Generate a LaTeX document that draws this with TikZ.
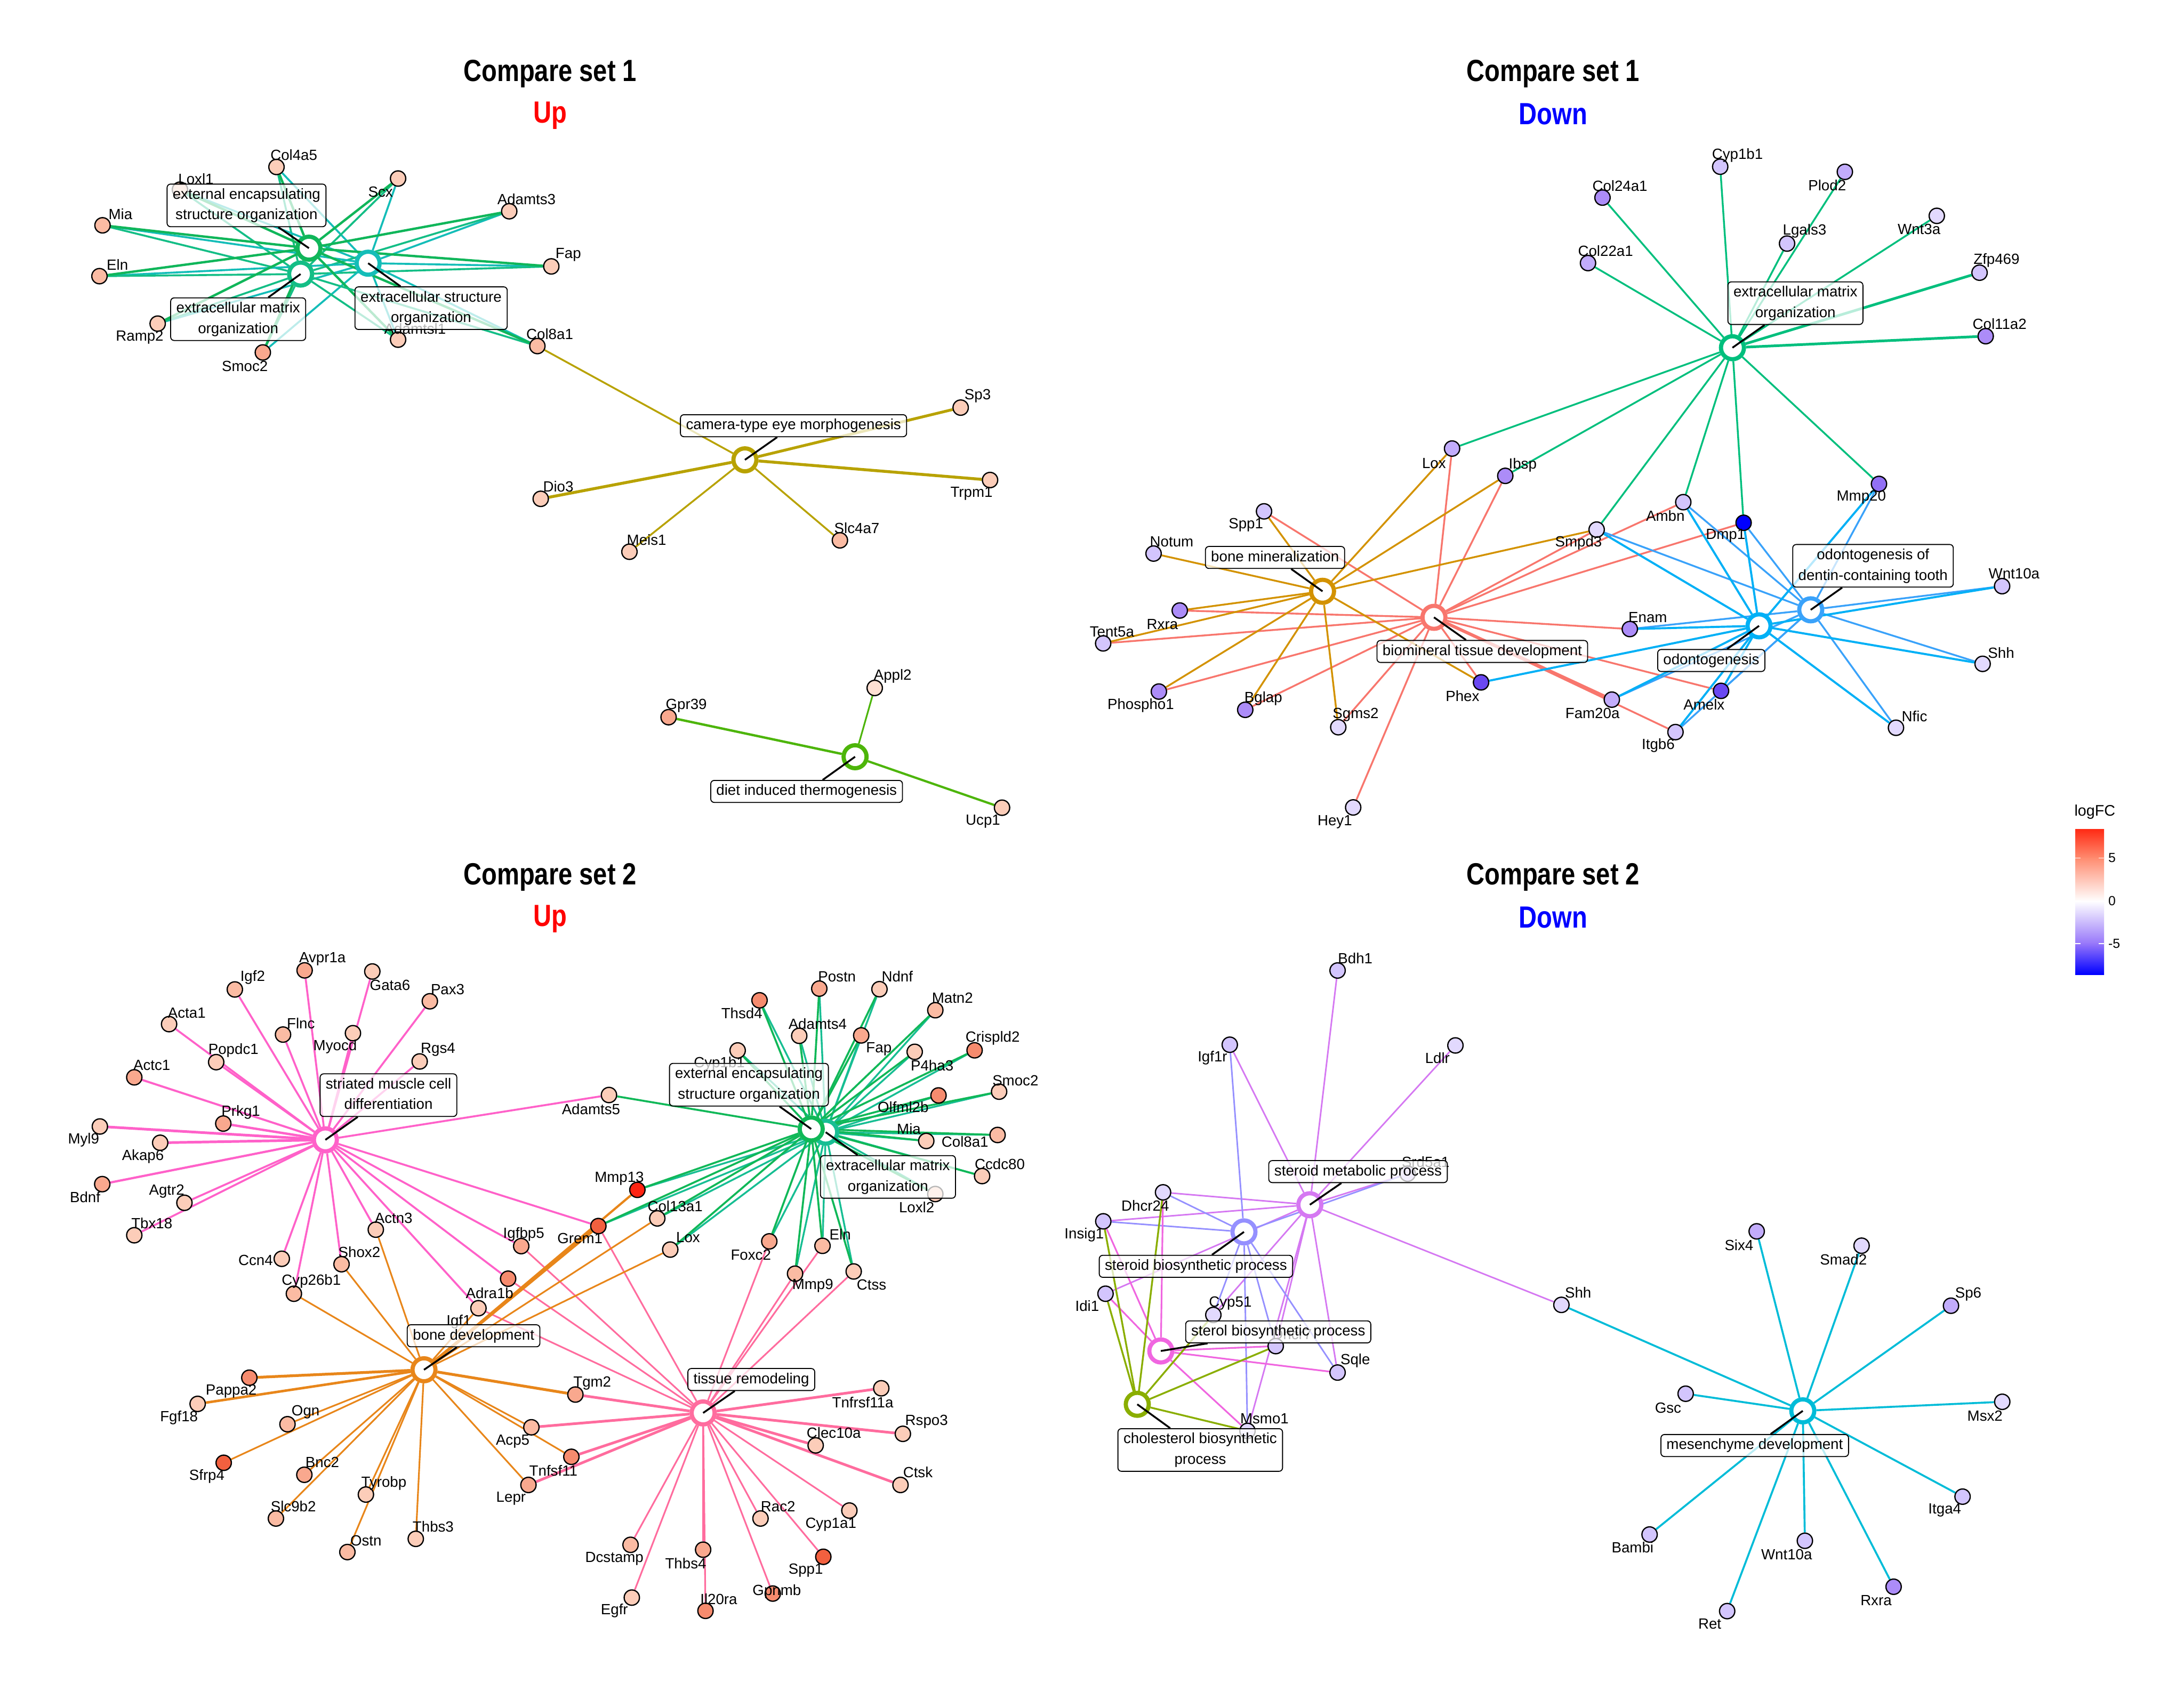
\documentclass[tikz,border=0pt]{standalone}
\usepackage{fontspec}
\setmainfont{Liberation Sans}
\newfontfamily\ttlfont[FakeStretch=0.82]{Liberation Sans}
\pgfdeclarelayer{edgelayer}
\pgfdeclarelayer{toplayer}
\pgfdeclarelayer{boxlayer}
\pgfsetlayers{edgelayer,main,toplayer,boxlayer}
\definecolor{up1}{HTML}{FDE0D3}
\definecolor{up2}{HTML}{FCCDB9}
\definecolor{up3}{HTML}{FBBBA3}
\definecolor{up4}{HTML}{F9A88E}
\definecolor{up5}{HTML}{F68B6E}
\definecolor{up6}{HTML}{F2603F}
\definecolor{up7}{HTML}{FF2412}
\definecolor{dn1}{HTML}{E2D9FE}
\definecolor{dn2}{HTML}{D3C5FD}
\definecolor{dn3}{HTML}{C2ACFB}
\definecolor{dn4}{HTML}{AC8CF8}
\definecolor{dn5}{HTML}{9270F5}
\definecolor{dn6}{HTML}{6A48F2}
\definecolor{dn7}{HTML}{0000FF}
\definecolor{col1a}{HTML}{10B65A}
\definecolor{col1b}{HTML}{14BE86}
\definecolor{col1c}{HTML}{14BDB8}
\definecolor{col1d}{HTML}{B8A200}
\definecolor{col1e}{HTML}{4DB50A}
\definecolor{col2a}{HTML}{00BF7D}
\definecolor{col2b}{HTML}{D39200}
\definecolor{col2c}{HTML}{F8766D}
\definecolor{col2d}{HTML}{00B0F6}
\definecolor{col2e}{HTML}{3AA2FA}
\definecolor{col3a}{HTML}{FF61C9}
\definecolor{col3b}{HTML}{10B858}
\definecolor{col3c}{HTML}{17BE93}
\definecolor{col3d}{HTML}{E8861A}
\definecolor{col3e}{HTML}{FF6C9E}
\definecolor{col4a}{HTML}{D578F2}
\definecolor{col4b}{HTML}{9590FF}
\definecolor{col4c}{HTML}{F066E0}
\definecolor{col4d}{HTML}{8AAE00}
\definecolor{col4e}{HTML}{00BCD8}
\definecolor{lgr}{HTML}{FF2A14}
\definecolor{lgfive}{HTML}{FF8C70}
\definecolor{lgmfive}{HTML}{9676FA}
\newcommand\lab{\fontsize{10.6}{14.8}\selectfont}
\newcommand\bstr{\rule[-2.6pt]{0pt}{10.8pt}}
\newcommand\gene[7]{\node[gnode,fill=#4] (#1) at (#2,#3) {};\node[glab] (#1-l) at (#5,#6) {#7};}
\newcommand\catnode[4]{\node[ring,draw=#4] (#1) at (#2,#3) {};}
\begin{document}
\begin{tikzpicture}[x=1pt,y=-1pt,
 gnode/.style={circle,draw=black,line width=0.9pt,minimum size=11pt,inner sep=0pt},
 glab/.style={font=\lab,inner sep=0pt},
 ring/.style={circle,fill=white,line width=3pt,minimum size=16.5pt,inner sep=0pt},
 lbox/.style={draw=black,line width=0.7pt,rounded corners=2.5pt,fill=white,fill opacity=0.72,text opacity=1,align=center,inner xsep=4pt,inner ysep=2.5pt,font=\lab},
 lead/.style={black,line width=1.3pt},
 edge/.style={line width=1.3pt},
 ttl/.style={font=\ttlfont\bfseries\fontsize{22}{26}\selectfont,inner sep=0pt}]
\useasboundingbox (0,0) rectangle (1568,1220);
% titles
\node[ttl] (t1) at (395,53) {Compare set 1};
\node[ttl,text=red] (t1s) at (395,83) {Up};
\node[ttl] (t2) at (1115,53) {Compare set 1};
\node[ttl,text=blue] (t2s) at (1115,82) {Down};
\node[ttl] (t3) at (395,630) {Compare set 2};
\node[ttl,text=red] (t3s) at (395,660) {Up};
\node[ttl] (t4) at (1115,630) {Compare set 2};
\node[ttl,text=blue] (t4s) at (1115,659) {Down};
% ---------- panel 1 genes
\gene{aCol4a5}{198.5}{119.9}{up2}{211}{111.3}{Col4a5}
\gene{aLoxl1}{129.2}{136.2}{up2}{140.7}{128.5}{Loxl1}
\gene{aScx}{285.8}{128.2}{up2}{273.2}{137.7}{Scx}
\gene{aAdamts3}{365.6}{151.7}{up2}{378}{142.9}{Adamts3}
\gene{aMia}{73.6}{161.8}{up3}{86.5}{153.8}{Mia}
\gene{aFap}{395.8}{191.3}{up2}{408}{183}{Fap}
\gene{aEln}{71.4}{198.3}{up3}{84.3}{190}{Eln}
\gene{aRamp2}{113.2}{232.4}{up2}{100.3}{242.2}{Ramp2}
\gene{aSmoc2}{188.7}{253.1}{up4}{175.8}{262.9}{Smoc2}
\gene{aAdamtsl1}{285.8}{243.9}{up2}{298}{235.9}{Adamtsl1}
\gene{aCol8a1}{385.8}{248.5}{up3}{394.7}{239.9}{Col8a1}
\gene{aSp3}{689.7}{292.7}{up2}{701.9}{284.5}{Sp3}
\gene{aTrpm1}{710.8}{344.7}{up2}{697.5}{354.3}{Trpm1}
\gene{aSlc4a7}{603}{388}{up3}{615.2}{379.3}{Slc4a7}
\gene{aMeis1}{451.9}{396.2}{up2}{464.2}{387.5}{Meis1}
\gene{aDio3}{388.2}{358.2}{up2}{400.8}{349.5}{Dio3}
\gene{aAppl2}{628}{494}{up1}{640.9}{485.7}{Appl2}
\gene{aGpr39}{480}{515}{up4}{492.7}{506.7}{Gpr39}
\gene{aUcp1}{719.4}{580}{up2}{705.7}{589.8}{Ucp1}
% ---------- panel 2 genes
\gene{bCol24a1}{1150.5}{141.9}{dn4}{1163}{133.6}{Col24a1}
\gene{bCyp1b1}{1235}{119.7}{dn2}{1247.4}{111.4}{Cyp1b1}
\gene{bPlod2}{1324.5}{123.4}{dn3}{1311.8}{133}{Plod2}
\gene{bLgals3}{1283}{174.9}{dn2}{1295.6}{166}{Lgals3}
\gene{bWnt3a}{1390.5}{155}{dn1}{1377.8}{164.7}{Wnt3a}
\gene{bZfp469}{1421.2}{195.8}{dn2}{1433.4}{187.1}{Zfp469}
\gene{bCol22a1}{1140.1}{188.9}{dn3}{1152.7}{180.3}{Col22a1}
\gene{bCol11a2}{1425.6}{241.4}{dn4}{1435.6}{232.5}{Col11a2}
\gene{bLox}{1042.5}{322.1}{dn3}{1029.5}{332.6}{Lox}
\gene{bIbsp}{1080.7}{341.7}{dn4}{1093.2}{333.9}{Ibsp}
\gene{bSpp1}{907.5}{367.2}{dn2}{894.5}{376.9}{Spp1}
\gene{bNotum}{828.2}{397.5}{dn2}{841.2}{389.1}{Notum}
\gene{bSmpd3}{1146.3}{380.3}{dn1}{1133.3}{390}{Smpd3}
\gene{bRxra}{847}{438.4}{dn4}{834.5}{448.5}{Rxra}
\gene{bTent5a}{792}{462}{dn2}{798.3}{453.6}{Tent5a}
\gene{bPhospho1}{832}{496.6}{dn4}{819}{506.5}{Phospho1}
\gene{bBglap}{894}{509.7}{dn4}{907}{501.6}{Bglap}
\gene{bSgms2}{960.8}{522.2}{dn1}{973.3}{513.4}{Sgms2}
\gene{bPhex}{1063.3}{490}{dn6}{1050}{499.8}{Phex}
\gene{bHey1}{971.5}{579.8}{dn1}{958.3}{590.1}{Hey1}
\gene{bFam20a}{1157.2}{502.4}{dn3}{1143.3}{512.1}{Fam20a}
\gene{bAmbn}{1208.5}{360.6}{dn2}{1195.6}{370.5}{Ambn}
\gene{bDmp1}{1251.8}{375.4}{dn7}{1238.9}{384.6}{Dmp1}
\gene{bMmp20}{1349}{347.5}{dn5}{1336.3}{357.2}{Mmp20}
\gene{bEnam}{1170.1}{451.7}{dn4}{1183}{443.5}{Enam}
\gene{bWnt10a}{1437.4}{420.9}{dn2}{1446}{412}{Wnt10a}
\gene{bShh}{1423.4}{476.7}{dn1}{1436.7}{468.7}{Shh}
\gene{bNfic}{1361.2}{522.6}{dn1}{1374.5}{514.2}{Nfic}
\gene{bAmelx}{1235.6}{496.1}{dn6}{1223.4}{506}{Amelx}
\gene{bItgb6}{1202.9}{525.7}{dn2}{1190.5}{535.2}{Itgb6}
% ---------- panel 3 genes
\gene{cAvpr1a}{218.7}{696.8}{up4}{231.5}{688.7}{Avpr1a}
\gene{cIgf2}{168.6}{710.5}{up3}{181.4}{702}{Igf2}
\gene{cGata6}{267.3}{697.6}{up2}{280}{707.3}{Gata6}
\gene{cPax3}{308.6}{719}{up3}{321.4}{710.4}{Pax3}
\gene{cActa1}{121.4}{735.4}{up2}{134.1}{727.2}{Acta1}
\gene{cFlnc}{203.2}{742.9}{up3}{216}{734.8}{Flnc}
\gene{cMyocd}{253.4}{741.9}{up2}{240.6}{751.5}{Myocd}
\gene{cRgs4}{301.3}{762.2}{up2}{314.5}{753.6}{Rgs4}
\gene{cPopdc1}{155.2}{762.7}{up2}{167.6}{754.3}{Popdc1}
\gene{cActc1}{96.4}{773.6}{up4}{109}{765}{Actc1}
\gene{cPrkg1}{160.3}{806.8}{up4}{172.9}{798.5}{Prkg1}
\gene{cMyl9}{71.7}{808.9}{up2}{60}{818.5}{Myl9}
\gene{cAkap6}{115}{820.6}{up2}{102.6}{830.3}{Akap6}
\gene{cBdnf}{73.4}{850.3}{up4}{61.1}{859.8}{Bdnf}
\gene{cAgtr2}{132.4}{863.7}{up2}{119.7}{855.6}{Agtr2}
\gene{cTbx18}{96.4}{887}{up2}{109}{878.4}{Tbx18}
\gene{cActn3}{269.8}{883}{up2}{282.6}{874.8}{Actn3}
\gene{cIgfbp5}{374.2}{894.8}{up4}{376}{886.5}{Igfbp5}
\gene{cThsd4}{545.3}{718.3}{up5}{532.6}{727.7}{Thsd4}
\gene{cPostn}{588.2}{709.9}{up4}{600.9}{701.3}{Postn}
\gene{cNdnf}{631.4}{710.3}{up2}{644.2}{701.3}{Ndnf}
\gene{cMatn2}{671.5}{725.4}{up3}{683.8}{716.7}{Matn2}
\gene{cAdamts4}{573.8}{743.8}{up2}{587}{735.1}{Adamts4}
\gene{cFap}{618.3}{743.5}{up4}{631}{753.2}{Fap}
\gene{cCrispld2}{699.7}{754.2}{up5}{712.7}{745.4}{Crispld2}
\gene{cP4ha3}{656.7}{755.3}{up2}{669.2}{765}{P4ha3}
\gene{cCyp1b1}{529.6}{754.3}{up2}{516.4}{763.9}{Cyp1b1}
\gene{cSmoc2}{717.3}{783.9}{up2}{729}{776}{Smoc2}
\gene{cOlfml2b}{673.8}{786.6}{up5}{648.4}{795}{Olfml2b}
\gene{cAdamts5}{437.2}{786.3}{up2}{424.3}{796.5}{Adamts5}
\gene{cMia}{665}{819.3}{up2}{652.5}{810.7}{Mia}
\gene{cCol8a1}{716.2}{815}{up3}{692.8}{819.7}{Col8a1}
\gene{cCcdc80}{705.1}{844.5}{up2}{717.8}{835.9}{Ccdc80}
\gene{cLoxl2}{671.5}{857.4}{up2}{658.1}{866.9}{Loxl2}
\gene{cMmp13}{457.6}{854.4}{up7}{444.6}{846.1}{Mmp13}
\gene{cGrem1}{429.6}{880.4}{up6}{416.4}{889.4}{Grem1}
\gene{cCol13a1}{471.9}{874.9}{up2}{484.7}{866.2}{Col13a1}
\gene{cLox}{481.2}{897.3}{up2}{494}{888.6}{Lox}
\gene{cFoxc2}{552.3}{891.4}{up4}{539.1}{901.2}{Foxc2}
\gene{cEln}{590.5}{894.6}{up3}{603.2}{886.2}{Eln}
\gene{cMmp9}{570.8}{914.6}{up3}{583.5}{923.2}{Mmp9}
\gene{cCtss}{612.9}{913}{up2}{625.7}{922.4}{Ctss}
\gene{cCcn4}{202.3}{903.9}{up2}{183.5}{905}{Ccn4}
\gene{cShox2}{245.2}{907.8}{up3}{258}{899}{Shox2}
\gene{cCyp26b1}{211}{929}{up3}{223.5}{919.9}{Cyp26b1}
\gene{cAdra1b}{364.8}{918.2}{up5}{351.5}{928.5}{Adra1b}
\gene{cIgf1}{343.5}{939.4}{up2}{329.4}{949.2}{Igf1}
\gene{cPappa2}{179}{989.3}{up5}{166}{999.1}{Pappa2}
\gene{cFgf18}{141.9}{1008.1}{up2}{128.5}{1018}{Fgf18}
\gene{cOgn}{206.4}{1022.7}{up3}{219.4}{1013.8}{Ogn}
\gene{cSfrp4}{160.6}{1050.4}{up6}{148.5}{1060.2}{Sfrp4}
\gene{cBnc2}{218.5}{1059}{up4}{231.4}{1049.9}{Bnc2}
\gene{cSlc9b2}{198.1}{1090.4}{up3}{210.6}{1081.8}{Slc9b2}
\gene{cTyrobp}{262.7}{1073.2}{up2}{275.6}{1065.1}{Tyrobp}
\gene{cOstn}{249.4}{1114.5}{up3}{262.7}{1106.4}{Ostn}
\gene{cThbs3}{298.5}{1105}{up2}{311}{1096.4}{Thbs3}
\gene{cTgm2}{413.1}{1001.4}{up4}{425.2}{993.1}{Tgm2}
\gene{cAcp5}{381.5}{1024.9}{up3}{368.1}{1034.9}{Acp5}
\gene{cTnfsf11}{410.2}{1046.1}{up5}{397.3}{1055.9}{Tnfsf11}
\gene{cLepr}{379.4}{1066.3}{up4}{366.9}{1076.1}{Lepr}
\gene{cTnfrsf11a}{632.7}{996.9}{up2}{619.4}{1006.9}{Tnfrsf11a}
\gene{cRspo3}{648.2}{1029.6}{up2}{665.2}{1021}{Rspo3}
\gene{cClec10a}{585.6}{1037.9}{up2}{598.6}{1028.9}{Clec10a}
\gene{cCtsk}{646.5}{1066.3}{up2}{659}{1057.2}{Ctsk}
\gene{cRac2}{546}{1090.4}{up2}{558.6}{1081.8}{Rac2}
\gene{cCyp1a1}{609.8}{1084.7}{up2}{596.5}{1094.7}{Cyp1a1}
\gene{cSpp1}{591.1}{1117.9}{up6}{578.5}{1127.7}{Spp1}
\gene{cGpnmb}{554.8}{1144.3}{up5}{557.7}{1142.9}{Gpnmb}
\gene{cDcstamp}{452.7}{1109.3}{up3}{441.1}{1119.1}{Dcstamp}
\gene{cThbs4}{504.8}{1112.8}{up4}{492.3}{1122.6}{Thbs4}
\gene{cIl20ra}{506.5}{1156.7}{up5}{516}{1148.1}{Il20ra}
\gene{cEgfr}{453.6}{1147.2}{up2}{441.1}{1156.7}{Egfr}
% ---------- panel 4 genes
\gene{dBdh1}{960.3}{696.9}{dn2}{973}{688}{Bdh1}
\gene{dIgf1r}{882.9}{750.2}{dn2}{870.5}{759.6}{Igf1r}
\gene{dLdlr}{1044.9}{750.7}{dn1}{1032}{759.8}{Ldlr}
\gene{dSrd5a1}{1010.6}{842.8}{dn2}{1023.5}{834.4}{Srd5a1}
\gene{dDhcr24}{835}{856.2}{dn1}{822.2}{865.6}{Dhcr24}
\gene{dInsig1}{792.1}{877}{dn2}{778.4}{886.7}{Insig1}
\gene{dIdi1}{793.7}{929}{dn2}{780.5}{937.9}{Idi1}
\gene{dCyp51}{871.1}{944.2}{dn1}{883.3}{935.9}{Cyp51}
\gene{dDhcr7}{915.9}{966.6}{dn2}{927.7}{958.2}{Dhcr7}
\gene{dSqle}{960.3}{985.6}{dn2}{973}{977.2}{Sqle}
\gene{dMsmo1}{895.6}{1027.5}{dn1}{907.8}{1018.6}{Msmo1}
\gene{dShh}{1121}{937}{dn1}{1133}{928}{Shh}
\gene{dSix4}{1261.2}{884.2}{dn3}{1248.5}{894.1}{Six4}
\gene{dSmad2}{1336.5}{894.5}{dn1}{1323.5}{904.6}{Smad2}
\gene{dSp6}{1400.7}{937.6}{dn3}{1413.1}{929.5}{Sp6}
\gene{dMsx2}{1437.5}{1006.6}{dn1}{1425.1}{1016.6}{Msx2}
\gene{dGsc}{1210.2}{1000.8}{dn2}{1197.6}{1011.1}{Gsc}
\gene{dItga4}{1409}{1074.7}{dn2}{1396.2}{1084.6}{Itga4}
\gene{dBambi}{1184.3}{1101.9}{dn2}{1172.1}{1111.2}{Bambi}
\gene{dWnt10a}{1295.8}{1106.4}{dn2}{1282.7}{1116.1}{Wnt10a}
\gene{dRxra}{1359.5}{1139.4}{dn4}{1346.9}{1149.1}{Rxra}
\gene{dRet}{1240}{1156.9}{dn2}{1227.5}{1166.2}{Ret}
% ---------- category rings
\begin{pgfonlayer}{toplayer}
\catnode{k1a}{221.8}{178.2}{col1a}
\catnode{k1b}{215.8}{196.8}{col1b}
\catnode{k1c}{264.3}{189.0}{col1c}
\catnode{k1d}{534.8}{330.2}{col1d}
\catnode{k1e}{613.9}{543.4}{col1e}
\catnode{k2a}{1243.8}{249.7}{col2a}
\catnode{k2b}{949.5}{424.6}{col2b}
\catnode{k2c}{1029.5}{443.3}{col2c}
\catnode{k2d}{1262.9}{449.4}{col2d}
\catnode{k2e}{1300}{437.9}{col2e}
\catnode{k3c}{592.8}{813}{col3c}
\catnode{k3b}{582.4}{810.7}{col3b}
\catnode{k3a}{233.6}{818.5}{col3a}
\catnode{k3d}{304.4}{983.6}{col3d}
\catnode{k3e}{504.8}{1014.6}{col3e}
\catnode{k4a}{940.4}{865.1}{col4a}
\catnode{k4b}{893.1}{884.6}{col4b}
\catnode{k4c}{833.4}{970.1}{col4c}
\catnode{k4d}{816.5}{1008.4}{col4d}
\catnode{k4e}{1294.3}{1013.1}{col4e}
\end{pgfonlayer}
% ---------- label boxes
\begin{pgfonlayer}{boxlayer}
\node[lbox] (L1a) at (177,147.5) {\bstr external encapsulating\\\bstr structure organization};
\node[lbox] (L1b) at (171,229.2) {\bstr extracellular matrix\\\bstr organization};
\node[lbox] (L1c) at (309.5,221.3) {\bstr extracellular structure\\\bstr organization};
\node[lbox] (L1d) at (569.7,305.7) {\bstr camera-type eye morphogenesis};
\node[lbox] (L1e) at (579.1,568.3) {\bstr diet induced thermogenesis};
\node[lbox] (L2a) at (1289,217.7) {\bstr extracellular matrix\\\bstr organization};
\node[lbox] (L2b) at (915.4,400.3) {\bstr bone mineralization};
\node[lbox] (L2c) at (1064.2,467.8) {\bstr biomineral tissue development};
\node[lbox] (L2d) at (1228.6,474.3) {\bstr odontogenesis};
\node[lbox] (L2e) at (1344.7,406.3) {\bstr odontogenesis of\\\bstr dentin-containing tooth};
\node[lbox] (L3a) at (278.9,786.4) {\bstr striated muscle cell\\\bstr differentiation};
\node[lbox] (L3b) at (537.7,778.9) {\bstr external encapsulating\\\bstr structure organization};
\node[lbox] (L3c) at (637.5,845.1) {\bstr extracellular matrix\\\bstr organization};
\node[lbox] (L3d) at (340,959.2) {\bstr bone development};
\node[lbox] (L3e) at (539.4,990.6) {\bstr tissue remodeling};
\node[lbox] (L4a) at (975,841.3) {\bstr steroid metabolic process};
\node[lbox] (L4b) at (858.6,909.3) {\bstr steroid biosynthetic process};
\node[lbox] (L4c) at (917.7,956.4) {\bstr sterol biosynthetic process};
\node[lbox] (L4d) at (861.7,1041.2) {\bstr cholesterol biosynthetic\\\bstr process};
\node[lbox] (L4e) at (1259.8,1038) {\bstr mesenchyme development};
\end{pgfonlayer}
\begin{pgfonlayer}{toplayer}
\foreach \k/\l in {k1a/L1a,k1b/L1b,k1c/L1c,k1d/L1d,k1e/L1e,k2a/L2a,k2b/L2b,k2c/L2c,k2d/L2d,k2e/L2e,k3a/L3a,k3b/L3b,k3c/L3c,k3d/L3d,k3e/L3e,k4a/L4a,k4b/L4b,k4c/L4c,k4d/L4d,k4e/L4e}
  {\draw[lead] (\k.center) -- (\l);}
\end{pgfonlayer}
% ---------- edges
\begin{pgfonlayer}{edgelayer}
\fill[white] (0,0) rectangle (1568,1220);
% panel 1
\foreach \g in {aCol4a5,aLoxl1,aScx,aAdamts3,aMia,aFap,aEln,aRamp2,aSmoc2,aAdamtsl1,aCol8a1}
  {\draw[edge,col1c,line width=1.4pt] (\g) -- (k1c);
   \draw[edge,col1b,line width=1.4pt] (\g) -- (k1b);
   \draw[edge,col1a,line width=1.7pt] (\g) -- (k1a);}
\foreach \g/\w in {aDio3/2.1pt,aTrpm1/2.1pt,aSp3/2pt,aCol8a1/1.3pt,aMeis1/1.3pt,aSlc4a7/1.3pt}
  {\draw[edge,col1d,line width=\w] (\g) -- (k1d);}
\foreach \g/\w in {aAppl2/1.2pt,aGpr39/1.7pt,aUcp1/1.6pt}
  {\draw[edge,col1e,line width=\w] (\g) -- (k1e);}
% panel 2
\foreach \g in {bCol24a1,bCyp1b1,bPlod2,bLgals3,bWnt3a,bCol22a1,bLox,bIbsp,bSmpd3,bAmbn,bDmp1,bMmp20}
  {\draw[edge,col2a] (\g) -- (k2a);}
\foreach \g in {bZfp469,bCol11a2}
  {\draw[edge,col2a,line width=1.9pt] (\g) -- (k2a);}
\foreach \g in {bLox,bIbsp,bSpp1,bSmpd3,bAmbn,bDmp1,bRxra,bTent5a,bPhospho1,bBglap,bSgms2,bHey1,bPhex,bEnam,bAmelx,bItgb6}
  {\draw[edge,col2c] (\g) -- (k2c);}
\draw[edge,col2c,line width=2.3pt] (bFam20a) -- (k2c);
\foreach \g in {bLox,bIbsp,bSpp1,bNotum,bSmpd3,bRxra,bTent5a,bPhospho1,bBglap,bSgms2,bPhex}
  {\draw[edge,col2b] (\g) -- (k2b);}
\foreach \g in {bSmpd3,bAmbn,bDmp1,bMmp20,bEnam,bWnt10a,bShh,bNfic,bAmelx,bItgb6,bFam20a}
  {\draw[edge,col2e] (\g) -- (k2e);}
\foreach \g in {bSmpd3,bAmbn,bDmp1,bEnam,bPhex,bFam20a,bAmelx,bItgb6,bMmp20,bWnt10a,bShh,bNfic}
  {\draw[edge,col2d,line width=1.5pt] (\g) -- (k2d);}
% panel 3
\foreach \g in {cAvpr1a,cIgf2,cGata6,cPax3,cActa1,cFlnc,cMyocd,cRgs4,cPopdc1,cAgtr2,cTbx18,cAdamts5,cCcn4,cCyp26b1,cShox2,cActn3,cIgfbp5,cAdra1b,cIgf1,cGrem1}
  {\draw[edge,col3a,line width=1.4pt] (\g) -- (k3a);}
\foreach \g/\w in {cMyl9/1.9pt,cAkap6/1.9pt,cPrkg1/1.7pt,cBdnf/1.6pt,cActc1/1.5pt}
  {\draw[edge,col3a,line width=\w] (\g) -- (k3a);}
\foreach \g in {cThsd4,cPostn,cNdnf,cMatn2,cAdamts4,cFap,cCrispld2,cP4ha3,cCyp1b1,cSmoc2,cOlfml2b,cMia,cCol8a1,cCcdc80,cLoxl2,cMmp13,cGrem1,cCol13a1,cLox,cFoxc2,cEln,cMmp9,cCtss}
  {\draw[edge,col3c] (\g) -- (k3c);}
\foreach \g in {cThsd4,cPostn,cNdnf,cMatn2,cAdamts4,cFap,cCrispld2,cP4ha3,cCyp1b1,cSmoc2,cOlfml2b,cAdamts5,cMia,cCol8a1,cCcdc80,cLoxl2,cMmp13,cGrem1,cCol13a1,cLox,cFoxc2,cEln,cMmp9,cCtss}
  {\draw[edge,col3b,line width=1.4pt] (\g) -- (k3b);}
\foreach \g in {cIgfbp5,cAdra1b,cIgf1,cGrem1,cFoxc2,cMmp9,cEln,cCtss,cRac2,cCyp1a1,cSpp1,cGpnmb,cDcstamp,cThbs4,cIl20ra,cEgfr}
  {\draw[edge,col3e,line width=1.2pt] (\g) -- (k3e);}
\foreach \g in {cTgm2,cAcp5,cTnfsf11,cLepr,cTnfrsf11a,cRspo3,cClec10a,cCtsk}
  {\draw[edge,col3e,line width=1.9pt] (\g) -- (k3e);}
\foreach \g in {cActn3,cShox2,cCyp26b1,cIgf1,cCol13a1,cLox,cOgn,cSfrp4,cBnc2,cSlc9b2,cTyrobp,cOstn,cThbs3,cAcp5,cTnfsf11,cLepr}
  {\draw[edge,col3d,line width=1.2pt] (\g) -- (k3d);}
\foreach \g/\w in {cPappa2/2pt,cFgf18/1.8pt,cTgm2/2pt,cGrem1/2.2pt,cMmp13/1.6pt}
  {\draw[edge,col3d,line width=\w] (\g) -- (k3d);}
% panel 4
\foreach \g in {dBdh1,dIgf1r,dLdlr,dSrd5a1,dDhcr24,dInsig1,dIdi1,dCyp51,dDhcr7,dSqle,dMsmo1,dShh}
  {\draw[edge,col4a,line width=1.1pt] (\g) -- (k4a);}
\foreach \g in {dIgf1r,dDhcr24,dInsig1,dSrd5a1,dCyp51,dDhcr7,dSqle,dMsmo1}
  {\draw[edge,col4b,line width=1.1pt] (\g) -- (k4b);}
\foreach \g in {dInsig1,dDhcr24,dIdi1,dDhcr7,dSqle,dMsmo1}
  {\draw[edge,col4c,line width=1.2pt] (\g) -- (k4c);}
\foreach \g in {dInsig1,dDhcr24,dIdi1,dCyp51,dDhcr7,dMsmo1}
  {\draw[edge,col4d,line width=1.3pt] (\g) -- (k4d);}
\foreach \g in {dShh,dSix4,dSmad2,dSp6,dMsx2,dGsc,dItga4,dBambi,dWnt10a,dRxra,dRet}
  {\draw[edge,col4e,line width=1.4pt] (\g) -- (k4e);}
\end{pgfonlayer}
% ---------- legend
\node[font=\fontsize{11}{13}\selectfont,inner sep=0pt] (lgtitle) at (1504,583) {logFC};
\shade[top color=lgr,bottom color=lgfive] (1489.9,595.3) rectangle (1510.6,616.5);
\shade[top color=lgfive,bottom color=white] (1489.9,616.1) rectangle (1510.6,647.3);
\shade[top color=white,bottom color=lgmfive] (1489.9,647) rectangle (1510.6,677.9);
\shade[top color=lgmfive,bottom color=blue] (1489.9,677.5) rectangle (1510.6,699.8);
\foreach \yy in {616.1,647,677.5}
  {\draw[white,line width=0.7pt] (1489.9,\yy) -- (1493.6,\yy) (1506.9,\yy) -- (1510.6,\yy);}
\node[anchor=west,font=\fontsize{9.5}{11}\selectfont,inner sep=0pt] (lg5) at (1513.5,616.1) {5};
\node[anchor=west,font=\fontsize{9.5}{11}\selectfont,inner sep=0pt] (lg0) at (1513.5,647) {0};
\node[anchor=west,font=\fontsize{9.5}{11}\selectfont,inner sep=0pt] (lgm5) at (1513.5,677.5) {-5};
\end{tikzpicture}
\end{document}
